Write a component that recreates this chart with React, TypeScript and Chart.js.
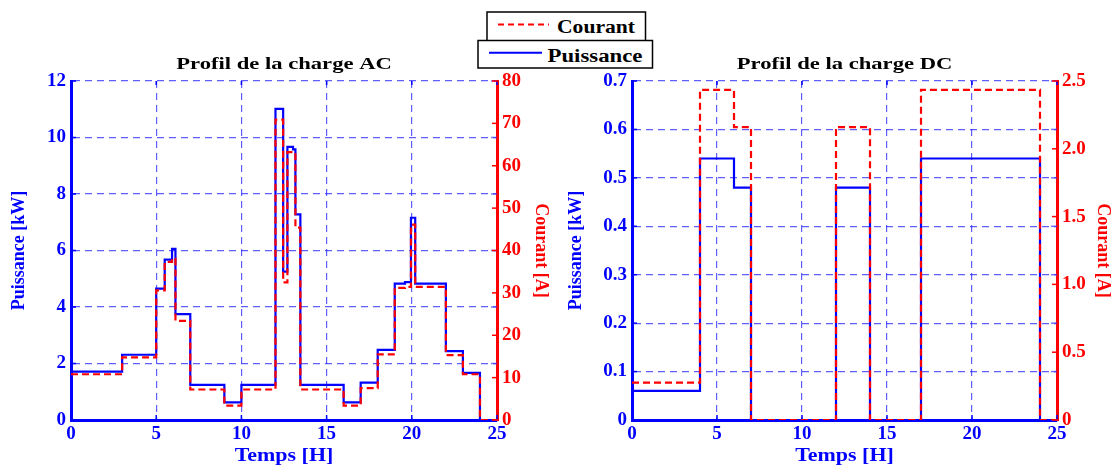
import React, { useEffect, useRef } from 'react';
import { Chart, registerables } from 'chart.js';

Chart.register(...registerables);

const FONT = "'Liberation Serif', 'Times New Roman', serif";
const BLUE = '#0000ff';
const RED = '#ff0000';
const GRID = 'rgba(40,40,255,0.75)';

// ---- AC load profile (time in hours, step start points) ----
const acTime = [0, 3, 5, 5.5, 5.93, 6.13, 7, 9, 10, 12, 12.45, 12.7, 13.03, 13.17, 13.46, 16, 17, 18, 19, 19.6, 19.95, 20.2, 22, 23, 24, 25];
const acPower = [1.71, 2.31, 4.65, 5.68, 6.06, 3.75, 1.24, 0.625, 1.24, 11.01, 5.25, 9.67, 9.58, 7.28, 1.24, 0.625, 1.32, 2.48, 4.83, 4.88, 7.16, 4.83, 2.44, 1.67, 0, 0];
const acCurrent = [10.8, 14.8, 30.6, 37.3, 38.1, 23.4, 7.2, 3.4, 7.2, 70.9, 32.5, 63.2, 63.0, 45.4, 7.2, 3.4, 7.5, 15.5, 31.2, 31.4, 46.1, 31.4, 15.3, 10.8, 0, 0];

// ---- DC load profile ----
const dcTime = [0, 4, 6, 7, 12, 14, 17, 24, 25];
const dcPower = [0.06, 0.54, 0.48, 0, 0.48, 0, 0.54, 0, 0];
const dcCurrent = [0.275, 2.435, 2.16, 0, 2.16, 0, 2.435, 0, 0];

// ---- axes ----
const xTicks = { min: 0, max: 25, step: 5 };
const acPowerAxis = { min: 0, max: 12, step: 2 };
const acCurrentAxis = { min: 0, max: 80, step: 10 };
const dcPowerAxis = { min: 0, max: 0.7, step: 0.1 };
const dcCurrentAxis = { min: 0, max: 2.5, step: 0.5 };

const titles = { ac: 'Profil de la charge AC', dc: 'Profil de la charge DC' };
const xLabel = 'Temps [H]';
const yLabel = 'Puissance [kW]';
const y1Label = 'Courant [A]';

const decorPlugin = {
  id: 'decor',
  beforeDatasetsDraw(chart: any) {
    const { ctx, chartArea: a, scales } = chart;
    const yl = scales.y, yr = scales.y1, x = scales.x;
    const seg = (x1: number, y1: number, x2: number, y2: number) => {
      ctx.beginPath(); ctx.moveTo(x1, y1); ctx.lineTo(x2, y2); ctx.stroke();
    };
    ctx.save();
    ctx.setLineDash([]);
    ctx.lineWidth = 1.5;
    ctx.strokeStyle = BLUE;
    yl.ticks.forEach((t: any) => { const p = yl.getPixelForValue(t.value); seg(a.left, p, a.left + 5, p); });
    ctx.strokeStyle = 'rgba(60,60,255,0.7)';
    yl.ticks.forEach((t: any) => { const p = yl.getPixelForValue(t.value); seg(a.right - 6, p, a.right, p); });
    ctx.strokeStyle = BLUE;
    x.ticks.forEach((t: any) => { const p = x.getPixelForValue(t.value); seg(p, a.bottom, p, a.bottom - 5); seg(p, a.top, p, a.top + 4); });
    ctx.strokeStyle = RED;
    yr.ticks.forEach((t: any) => { const p = yr.getPixelForValue(t.value); seg(a.right - 5, p, a.right + 2, p); });
    ctx.restore();
  },
  afterDraw(chart: any, _args: any, opts: any) {
    const { ctx, chartArea: a } = chart;
    const cx = (a.left + a.right) / 2;
    ctx.save();
    ctx.textAlign = 'center';
    ctx.textBaseline = 'alphabetic';
    // chart title
    ctx.fillStyle = '#000';
    ctx.font = `bold 17px ${FONT}`;
    ctx.translate(cx, a.top - 12);
    ctx.scale(1.33, 1);
    ctx.fillText(opts.title, 0, 0);
    ctx.restore();
    // x axis title
    ctx.save();
    ctx.textAlign = 'center';
    ctx.fillStyle = BLUE;
    ctx.font = `bold 18px ${FONT}`;
    ctx.translate(cx, a.bottom + 41);
    ctx.scale(1.22, 1);
    ctx.fillText(xLabel, 0, 0);
    ctx.restore();
  },
};

function buildConfig(p: any) {
  const tickFont = { family: FONT, size: 19, weight: 'bold' as const };
  const titleFont = { family: FONT, size: 18, weight: 'bold' as const };
  return {
    type: 'line',
    data: {
      datasets: [
        {
          label: 'Courant',
          data: p.time.map((t: number, i: number) => ({ x: t, y: p.current[i] })),
          yAxisID: 'y1',
          borderColor: RED,
          borderWidth: 2.2,
          borderDash: [7, 4],
          stepped: true,
          pointRadius: 0,
          fill: false,
          order: 0,
        },
        {
          label: 'Puissance',
          data: p.time.map((t: number, i: number) => ({ x: t, y: p.power[i] })),
          yAxisID: 'y',
          borderColor: BLUE,
          borderWidth: 2.2,
          stepped: true,
          pointRadius: 0,
          fill: false,
          order: 1,
        },
      ],
    },
    options: {
      responsive: false,
      animation: false,
      events: [],
      layout: { padding: { top: 81, left: 0, right: 0, bottom: 0 } },
      plugins: {
        legend: { display: false },
        tooltip: { enabled: false },
        title: { display: false },
        decor: { title: p.title },
      },
      scales: {
        x: {
          type: 'linear',
          min: xTicks.min,
          max: xTicks.max,
          afterFit: (s: any) => { s.height = 46; },
          ticks: { stepSize: xTicks.step, color: BLUE, font: tickFont, padding: 3, maxRotation: 0 },
          grid: { color: GRID, lineWidth: 1.2, drawTicks: false },
          border: { display: true, color: BLUE, width: 3, dash: [7, 5] },
        },
        y: {
          type: 'linear',
          position: 'left',
          min: p.yAxis.min,
          max: p.yAxis.max,
          afterFit: (s: any) => { s.width = p.leftW; },
          ticks: { stepSize: p.yAxis.step, color: BLUE, font: tickFont, padding: 5 },
          grid: { color: GRID, lineWidth: 1.2, drawTicks: false },
          border: { display: true, color: BLUE, width: 3, dash: [7, 5] },
          title: { display: true, text: yLabel, color: BLUE, font: titleFont, padding: { top: 9, bottom: 0 } },
        },
        y1: {
          type: 'linear',
          position: 'right',
          min: p.y1Axis.min,
          max: p.y1Axis.max,
          afterFit: (s: any) => { s.width = p.rightW; },
          ticks: { stepSize: p.y1Axis.step, color: RED, font: tickFont, padding: 5 },
          grid: { drawOnChartArea: false, drawTicks: false },
          border: { display: true, color: RED, width: 3 },
          title: { display: true, text: y1Label, color: RED, font: titleFont, padding: { top: p.rightTitlePad, bottom: 0 } },
        },
      },
    },
    plugins: [decorPlugin],
  } as any;
}

function ChartCanvas({ config, left, width }: { config: any; left: number; width: number }) {
  const ref = useRef<HTMLCanvasElement | null>(null);
  useEffect(() => {
    if (!ref.current) return;
    const c = new Chart(ref.current, config);
    return () => c.destroy();
  }, []);
  return (
    <canvas
      ref={ref}
      width={width}
      height={466}
      style={{ position: 'absolute', left, top: 0, width, height: 466, display: 'block' }}
    />
  );
}

function Legend() {
  const txt = { fontFamily: FONT, fontWeight: 'bold', fontSize: 18, fill: '#000' } as any;
  return (
    <svg
      width={1115}
      height={466}
      style={{ position: 'absolute', left: 0, top: 0, pointerEvents: 'none' }}
    >
      <rect x={487} y={12} width={158.5} height={29} fill="#fff" stroke="#000" strokeWidth={1.5} />
      <line x1={498} y1={24.5} x2={549} y2={24.5} stroke={RED} strokeWidth={2} strokeDasharray="6 4" />
      <text x={557} y={33.3} textLength={78} lengthAdjust="spacingAndGlyphs" style={txt}>Courant</text>
      <rect x={478} y={40.5} width={174.5} height={27.5} fill="#fff" stroke="#000" strokeWidth={1.5} />
      <line x1={489} y1={52.7} x2={542} y2={52.7} stroke={BLUE} strokeWidth={2} />
      <text x={547.5} y={61.7} textLength={95} lengthAdjust="spacingAndGlyphs" style={txt}>Puissance</text>
    </svg>
  );
}

export default function App() {
  const acConfig = buildConfig({
    time: acTime, power: acPower, current: acCurrent,
    yAxis: acPowerAxis, y1Axis: acCurrentAxis,
    leftW: 71, rightW: 60, rightTitlePad: 5.7, title: titles.ac,
  });
  const dcConfig = buildConfig({
    time: dcTime, power: dcPower, current: dcCurrent,
    yAxis: dcPowerAxis, y1Axis: dcCurrentAxis,
    leftW: 75, rightW: 58, rightTitlePad: 1.2, title: titles.dc,
  });
  return (
    <div style={{ position: 'absolute', left: 0, top: 0, width: 1115, height: 466, background: '#fff', overflow: 'hidden' }}>
      <ChartCanvas config={acConfig} left={0} width={557} />
      <ChartCanvas config={dcConfig} left={557} width={558} />
      <Legend />
    </div>
  );
}
